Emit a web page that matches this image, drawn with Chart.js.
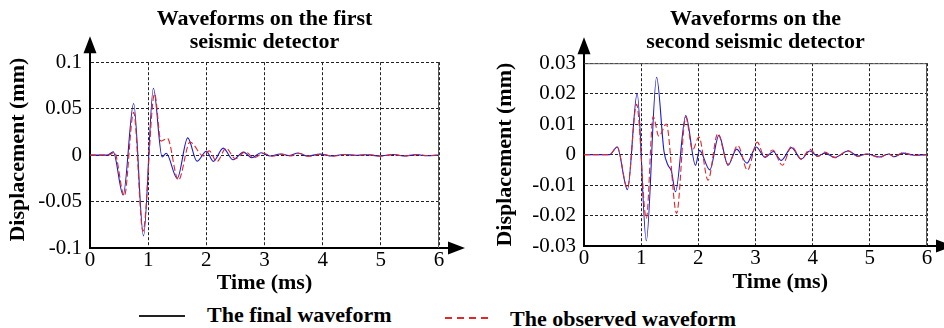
<!DOCTYPE html>
<html>
<head>
<meta charset="utf-8">
<title>Waveforms on the seismic detectors</title>
<script src="https://cdn.jsdelivr.net/npm/chart.js@4.4.1/dist/chart.umd.min.js"></script>
<style>
    html, body { margin: 0; padding: 0; background: #fff; }
    #page {
        position: relative;
        width: 944px;
        height: 328px;
        overflow: hidden;
        font-family: 'Liberation Serif', 'Times New Roman', serif;
    }
    .panel { position: absolute; top: 0; height: 300px; }
    #left-panel { left: 0; width: 470px; }
    #right-panel { left: 470px; width: 474px; }
    .legend-text {
        position: absolute;
        font-weight: bold;
        font-size: 22px;
        line-height: 22px;
        white-space: nowrap;
        color: #000;
    }
    .legend-line { position: absolute; height: 2px; }
    #final-line { left: 139px; top: 315px; width: 46px; background: #222; }
    #observed-line {
        left: 445px; top: 317px; width: 43px;
        background: repeating-linear-gradient(to right, #e02828 0 7px, transparent 7px 12px);
    }
    #final-text { left: 207px; top: 304px; }
    #observed-text { left: 510px; top: 308px; }
</style>
</head>
<body>
<div id="page">
    <div class="panel" id="left-panel"><canvas id="first-detector-chart" width="470" height="300"></canvas></div>
    <div class="panel" id="right-panel"><canvas id="second-detector-chart" width="474" height="300"></canvas></div>
    <div class="legend-line" id="final-line"></div>
    <div class="legend-text" id="final-text">The final waveform</div>
    <div class="legend-line" id="observed-line"></div>
    <div class="legend-text" id="observed-text">The observed waveform</div>
</div>
<script>
// Time axis (ms)
const timeTicks = [0, 1, 2, 3, 4, 5, 6];
const timeTickLabels = ['0', '1', '2', '3', '4', '5', '6'];

// First seismic detector (mm)
const firstTicks = [-0.1, -0.05, 0, 0.05, 0.1];
const firstTickLabels = ['-0.1', '-0.05', '0', '0.05', '0.1'];

const firstFinalTime = [0, 0.30, 0.40, 0.57, 0.75, 0.92, 1.09, 1.24, 1.31, 1.50, 1.68, 1.84, 2.00, 2.12, 2.29, 2.46,
    2.64, 2.78, 2.94, 3.10, 3.27, 3.42, 3.58, 3.73, 3.96, 4.16, 4.36, 4.56, 4.75, 4.98, 5.21, 5.39, 5.62, 5.79, 6.0];
const firstFinalDisp = [0, 0, 0.0035, -0.043, 0.0556, -0.087, 0.072, -0.002, 0.002, -0.025, 0.0185, -0.0065, 0.0042,
    -0.0068, 0.0075, -0.005, 0.0032, -0.0029, 0.0025, -0.001, 0.0012, -0.0005, 0.0022, -0.001, 0.001, -0.001, 0.0007,
    -0.0002, 0.0004, -0.001, 0.0007, -0.001, 0.0005, -0.0007, 0];

const firstObservedTime = [0, 0.32, 0.42, 0.59, 0.75, 0.91, 1.11, 1.22, 1.33, 1.52, 1.72, 1.95, 2.05, 2.18, 2.34, 2.50,
    2.67, 2.82, 2.98, 3.14, 3.30, 3.45, 3.60, 3.76, 3.98, 4.18, 4.38, 4.58, 4.78, 5.00, 5.22, 5.41, 5.63, 5.80, 6.0];
const firstObservedDisp = [0, 0, 0.003, -0.044, 0.046, -0.082, 0.066, 0.015, 0.018, -0.027, 0.014, -0.001, 0.0045,
    -0.0072, 0.0075, -0.004, 0.0035, -0.0028, 0.002, -0.0012, 0.001, -0.0008, 0.0018, -0.0012, 0.0008, -0.0012, 0.0006,
    -0.0004, 0.0006, -0.0012, 0.0006, -0.0008, 0.0007, -0.0005, 0];

// Second seismic detector (mm)
const secondTicks = [-0.03, -0.02, -0.01, 0, 0.01, 0.02, 0.03];
const secondTickLabels = ['-0.03', '-0.02', '-0.01', '0', '0.01', '0.02', '0.03'];

const secondFinalTime = [0, 0.45, 0.58, 0.76, 0.93, 1.09, 1.27, 1.40, 1.47, 1.53, 1.60, 1.78, 1.95, 2.02, 2.20, 2.36,
    2.52, 2.67, 2.85, 3.01, 3.17, 3.31, 3.45, 3.63, 3.80, 3.95, 4.09, 4.21, 4.39, 4.62, 4.79, 4.95, 5.17, 5.33, 5.42,
    5.58, 5.78, 6.0];
const secondFinalDisp = [0, 0, 0.0025, -0.0115, 0.020, -0.0283, 0.0254, 0.001, -0.0035, -0.0055, -0.0122, 0.0128,
    -0.0035, 0.0014, -0.005, 0.0063, -0.0035, 0.0018, -0.0028, 0.0025, -0.0009, 0.001, -0.0019, 0.0023, -0.0015,
    0.0012, -0.0005, 0.0005, -0.0009, 0.0012, -0.0005, 0.0002, -0.0008, 0.0002, -0.0007, 0.0005, -0.0002, 0];

const secondObservedTime = [0, 0.45, 0.58, 0.76, 0.92, 1.09, 1.21, 1.31, 1.44, 1.62, 1.78, 1.90, 2.01, 2.17, 2.34,
    2.52, 2.69, 2.86, 3.03, 3.16, 3.30, 3.47, 3.63, 3.80, 3.95, 4.09, 4.21, 4.39, 4.62, 4.79, 4.95, 5.17, 5.33, 5.42,
    5.58, 5.78, 6.0];
const secondObservedDisp = [0, 0, 0.0025, -0.011, 0.0165, -0.021, 0.0125, 0.006, 0.010, -0.0193, 0.0123, 0.0015,
    0.0058, -0.0084, 0.0069, -0.0032, 0.003, -0.0051, 0.0041, -0.0008, 0.0015, -0.0035, 0.0027, -0.0014, 0.0017,
    -0.0006, 0.0008, -0.001, 0.0013, -0.0006, 0.0002, -0.0009, 0.0003, -0.0007, 0.0006, -0.0003, 0];

const serif = "'Liberation Serif', 'Times New Roman', serif";
Chart.defaults.font.family = serif;
Chart.defaults.color = '#000';

// Arrow heads on both axes plus the thin frame on the right (and top)
const axisArrows = {
    id: 'axisArrows',
    afterDraw(chart, args, opts) {
        const { ctx, chartArea: a } = chart;
        ctx.save();
        ctx.setLineDash([]);
        ctx.strokeStyle = '#555';
        ctx.lineWidth = 1;
        ctx.beginPath();
        ctx.moveTo(a.right - 0.5, a.bottom);
        ctx.lineTo(a.right - 0.5, a.top + 0.5);
        if (opts.topFrame) ctx.lineTo(a.left, a.top + 0.5);
        ctx.stroke();

        ctx.strokeStyle = '#000';
        ctx.fillStyle = '#000';
        ctx.lineWidth = 2;
        ctx.beginPath();
        ctx.moveTo(a.left, a.top);
        ctx.lineTo(a.left, a.top - 10);
        ctx.moveTo(a.right, a.bottom);
        ctx.lineTo(a.right + 10, a.bottom);
        ctx.stroke();

        ctx.beginPath();
        ctx.moveTo(a.left, a.top - 26);
        ctx.lineTo(a.left - 6.5, a.top - 9);
        ctx.lineTo(a.left + 6.5, a.top - 9);
        ctx.closePath();
        ctx.moveTo(a.right + 26, a.bottom);
        ctx.lineTo(a.right + 9, a.bottom - 6.5);
        ctx.lineTo(a.right + 9, a.bottom + 6.5);
        ctx.closePath();
        ctx.fill();
        ctx.restore();
    }
};

function toPoints(times, values) {
    return times.map((t, i) => ({ x: t, y: values[i] }));
}

function createWaveformChart(canvasId, cfg) {
    const ctx = document.getElementById(canvasId).getContext('2d');
    const tickFont = { family: serif, size: 21, weight: 'normal' };
    const axisTitleFont = { family: serif, size: 22, weight: 'bold', lineHeight: 1.2 };

    return new Chart(ctx, {
        type: 'line',
        data: {
            datasets: [{
                label: 'The observed waveform',
                data: toPoints(cfg.observedTime, cfg.observedDisp),
                borderColor: '#e02828',
                borderWidth: 1.1,
                borderDash: [6, 3],
                pointRadius: 0,
                cubicInterpolationMode: 'monotone'
            }, {
                label: 'The final waveform',
                data: toPoints(cfg.finalTime, cfg.finalDisp),
                borderColor: '#1a1ad6',
                borderWidth: 1.1,
                pointRadius: 0,
                cubicInterpolationMode: 'monotone'
            }]
        },
        options: {
            responsive: false,
            animation: false,
            devicePixelRatio: 1,
            layout: { padding: { left: 0, right: cfg.rightPad, top: 0, bottom: 0 } },
            plugins: {
                legend: { display: false },
                tooltip: { enabled: false },
                title: {
                    display: true,
                    fullSize: false,
                    text: cfg.title,
                    color: '#000',
                    font: { family: serif, size: 22, weight: 'bold', lineHeight: 1.05 },
                    padding: { top: 8, bottom: cfg.titleGap }
                },
                axisArrows: { topFrame: cfg.topFrame }
            },
            scales: {
                x: {
                    type: 'linear',
                    min: 0,
                    max: 6,
                    afterBuildTicks: scale => { scale.ticks = timeTicks.map(v => ({ value: v })); },
                    afterFit: scale => { scale.height = cfg.xAxisHeight; },
                    ticks: {
                        padding: 0,
                        color: '#000',
                        font: tickFont,
                        callback: (value, index) => timeTickLabels[index]
                    },
                    grid: { color: '#222', lineWidth: 1, drawTicks: false },
                    border: { color: '#000', width: 2, dash: [3, 2] },
                    title: {
                        display: true,
                        text: cfg.xTitle,
                        color: '#000',
                        font: axisTitleFont,
                        padding: { top: 0, bottom: cfg.xTitlePad }
                    }
                },
                y: {
                    min: cfg.yTicks[0],
                    max: cfg.yTicks[cfg.yTicks.length - 1],
                    afterBuildTicks: scale => { scale.ticks = cfg.yTicks.map(v => ({ value: v })); },
                    afterFit: scale => { scale.width = cfg.yAxisWidth; },
                    ticks: {
                        padding: 8,
                        color: '#000',
                        font: tickFont,
                        callback: (value, index) => cfg.yTickLabels[index]
                    },
                    grid: { color: '#222', lineWidth: 1, drawTicks: false },
                    border: { color: '#000', width: 2, dash: [3, 2] },
                    title: {
                        display: true,
                        text: cfg.yTitle,
                        color: '#000',
                        font: axisTitleFont,
                        padding: { top: cfg.yTitlePad, bottom: 0 }
                    }
                }
            }
        },
        plugins: [axisArrows]
    });
}

createWaveformChart('first-detector-chart', {
    title: ['Waveforms on the first', 'seismic detector'],
    titleGap: 8,
    // leading spaces nudge the rotated title up a little, like the original
    yTitle: '  Displacement (mm)',
    yTitlePad: 5,
    xTitle: 'Time (ms)',
    xTitlePad: 3.5,
    yTicks: firstTicks,
    yTickLabels: firstTickLabels,
    yAxisWidth: 90,
    xAxisHeight: 52,
    rightPad: 31,
    topFrame: false,
    finalTime: firstFinalTime,
    finalDisp: firstFinalDisp,
    observedTime: firstObservedTime,
    observedDisp: firstObservedDisp
});

createWaveformChart('second-detector-chart', {
    title: ['Waveforms on the', 'second seismic detector'],
    titleGap: 9,
    yTitle: 'Displacement (mm)',
    yTitlePad: 21.8,
    // the original sits this label right of centre
    xTitle: '         Time (ms)',
    xTitlePad: 4.2,
    yTicks: secondTicks,
    yTickLabels: secondTickLabels,
    yAxisWidth: 114,
    xAxisHeight: 54,
    rightPad: 17,
    topFrame: true,
    finalTime: secondFinalTime,
    finalDisp: secondFinalDisp,
    observedTime: secondObservedTime,
    observedDisp: secondObservedDisp
});
</script>
</body>
</html>
